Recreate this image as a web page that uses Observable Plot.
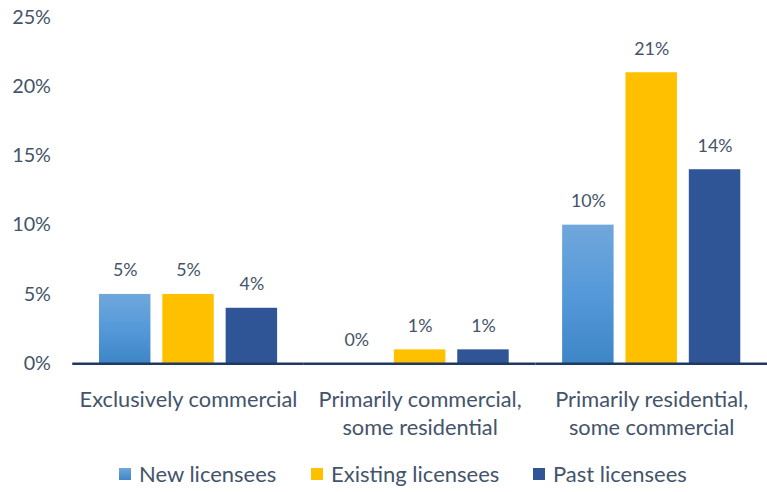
<!DOCTYPE html>
<html>
<head>
<meta charset="utf-8">
<script src="https://cdn.jsdelivr.net/npm/d3@7"></script>
<script src="https://cdn.jsdelivr.net/npm/@observablehq/plot@0.6"></script>
<style>
  html, body { margin: 0; padding: 0; background: #fff; overflow: hidden; width: 767px; height: 492px; }
  #chart svg { display: block; overflow: visible; }
  #legend { position: relative; height: 37px; font-family: Lato, sans-serif; font-size: 22px; color: #44546A; }
  .item { position: absolute; top: 11px; display: flex; align-items: center; line-height: 26px; }
  .sw { width: 12px; height: 12px; margin-right: 8px; }
</style>
</head>
<body>
<div id="chart"></div>
<div id="legend"></div>
<script>
const categories = ["Exclusively commercial", "Primarily commercial, some residential", "Primarily residential, some commercial"];
const categoryLabels = ["Exclusively commercial", "Primarily commercial,\nsome residential", "Primarily residential,\nsome commercial"];
const series = ["New licensees", "Existing licensees", "Past licensees"];
const newValues = [5, 0, 10];
const existingValues = [5, 1, 21];
const pastValues = [4, 1, 14];
const yTicks = [0, 5, 10, 15, 20, 25];

const colors = ["url(#gNew)", "#FFC000", "#2F5597"];
const textColor = "#44546A";

const valueSets = [newValues, existingValues, pastValues];
const data = [];
categories.forEach((c, i) => {
  series.forEach((s, j) => data.push({category: c, series: s, value: valueSets[j][i]}));
});
const labelData = categories.map((c, i) => ({category: c, label: categoryLabels[i]}));

const defs = () => {
  const ns = "http://www.w3.org/2000/svg";
  const d = document.createElementNS(ns, "defs");
  d.innerHTML = `<linearGradient id="gNew" x1="0" y1="0" x2="0" y2="1">
    <stop offset="0" stop-color="#70A7DB"/>
    <stop offset="0.5" stop-color="#5599D9"/>
    <stop offset="1" stop-color="#3E86C6"/>
  </linearGradient>`;
  return d;
};

const chart = Plot.plot({
  width: 775,
  height: 455,
  marginLeft: 73,
  marginRight: 0,
  marginTop: 17,
  marginBottom: 88,
  style: {fontFamily: "Lato, sans-serif", color: textColor, background: "#fff"},
  fx: {domain: categories, padding: 0, axis: null},
  x: {domain: series, paddingInner: 0.19, paddingOuter: 0.4, axis: null},
  y: {domain: [0, 25], axis: null},
  color: {domain: series, range: colors},
  marks: [
    defs,
    Plot.barY(data, {fx: "category", x: "series", y: "value", fill: "series"}),
    Plot.ruleY([0], {stroke: "#1F3864", strokeWidth: 2.5}),
    Plot.text(data, {fx: "category", x: "series", y: "value", text: d => d.value + "%", dy: -24, fontSize: 18, fill: textColor}),
    Plot.text(labelData, {fx: "category", text: "label", frameAnchor: "bottom", lineAnchor: "top", dy: 24, fontSize: 22, lineHeight: 1.27, fill: textColor}),
    Plot.axisY({ticks: yTicks, tickFormat: d => d + "%", tickSize: 0, tickPadding: 22, fontSize: 20, label: null, fill: textColor, facetAnchor: "left"})
  ]
});
document.getElementById("chart").appendChild(chart);

const legend = document.getElementById("legend");
const legendX = [119, 311, 533];
series.forEach((s, i) => {
  const item = document.createElement("div");
  item.className = "item";
  item.style.left = legendX[i] + "px";
  const sw = document.createElement("div");
  sw.className = "sw";
  sw.style.background = i === 0 ? "linear-gradient(#70A7DB, #3E86C6)" : colors[i];
  const t = document.createElement("span");
  t.textContent = s;
  item.appendChild(sw);
  item.appendChild(t);
  legend.appendChild(item);
});
</script>
</body>
</html>
